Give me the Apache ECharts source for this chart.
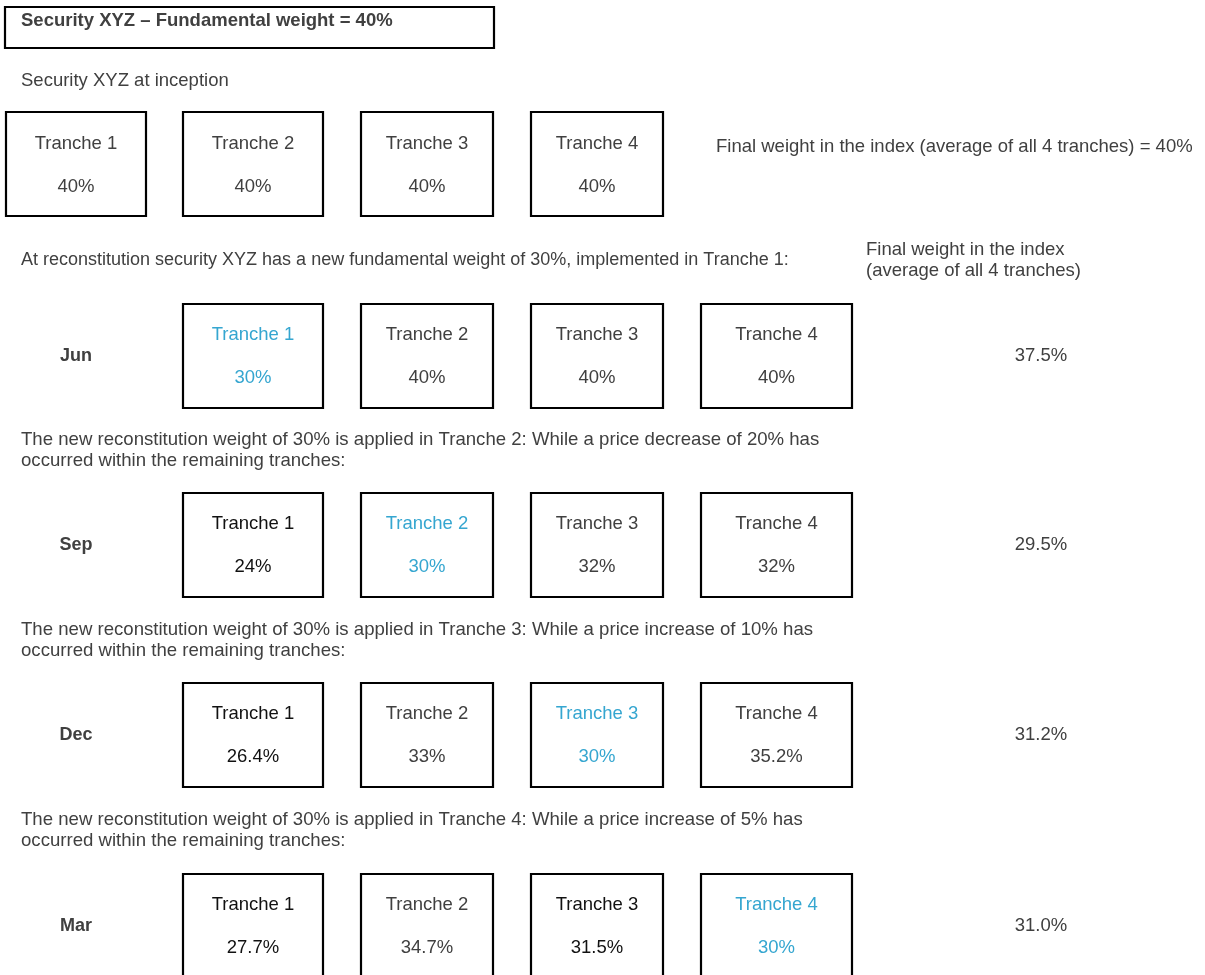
<!DOCTYPE html>
<html>
<head>
<meta charset="utf-8">
<script src="https://cdn.jsdelivr.net/npm/echarts@6/dist/echarts.min.js"></script>
<style>
  html, body { margin: 0; padding: 0; background: #fff; }
  #main { width: 1205px; height: 975px; }
</style>
</head>
<body>
<div id="main"></div>
<script>
// ---------- DATA ----------
const titleText = 'Security XYZ \u2013 Fundamental weight = 40%';
const inceptionText = 'Security XYZ at inception';
const inceptionFinalText = 'Final weight in the index (average of all 4 tranches) = 40%';
const finalHeaderLines = ['Final weight in the index', '(average of all 4 tranches)'];
const trancheLabels = ['Tranche 1', 'Tranche 2', 'Tranche 3', 'Tranche 4'];
const inceptionWeights = ['40%', '40%', '40%', '40%'];
const months = ['Jun', 'Sep', 'Dec', 'Mar'];
const junWeights = ['30%', '40%', '40%', '40%'];
const sepWeights = ['24%', '30%', '32%', '32%'];
const decWeights = ['26.4%', '33%', '30%', '35.2%'];
const marWeights = ['27.7%', '34.7%', '31.5%', '30%'];
const finalWeights = ['37.5%', '29.5%', '31.2%', '31.0%'];
const activeTranche = [0, 1, 2, 3];
const captions = [
  ['At reconstitution security XYZ has a new fundamental weight of 30%, implemented in Tranche 1:'],
  ['The new reconstitution weight of 30% is applied in Tranche 2: While a price decrease of 20% has', 'occurred within the remaining tranches:'],
  ['The new reconstitution weight of 30% is applied in Tranche 3: While a price increase of 10% has', 'occurred within the remaining tranches:'],
  ['The new reconstitution weight of 30% is applied in Tranche 4: While a price increase of 5% has', 'occurred within the remaining tranches:']
];
const rowWeights = [junWeights, sepWeights, decWeights, marWeights];

// ---------- STYLE / LAYOUT ----------
const FONT = '"Liberation Sans", Arial, Helvetica, sans-serif';
const FS = 18.5;
const GREY = '#404040';
const BLACK = '#111111';
const BLUE = '#35a6d0';
const darkCells = { '1-0': true, '2-0': true, '3-0': true, '3-2': true };
const incBoxX = [6, 183, 361, 531];
const incBoxW = [140, 140, 132, 132];
const rowBoxX = [183, 361, 531, 701];
const rowBoxW = [140, 132, 132, 151];
const incTop = 112, boxH = 104;
const rowTops = [304, 493, 683, 874];
const captionY = [260, 440, 630, 820];
const captionFS = [18, 18.6, 18.6, 18.6];
const lineH = 21;

const els = [];
function txt(s, x, y, opts) {
  opts = opts || {};
  els.push({
    type: 'text',
    style: {
      text: s, x: x, y: y,
      fill: opts.fill || GREY,
      fontSize: opts.fontSize || FS,
      fontWeight: opts.bold ? 'bold' : 'normal',
      fontFamily: FONT,
      align: opts.align || 'left',
      verticalAlign: 'middle'
    }
  });
}
function box(x, y, w, h) {
  els.push({
    type: 'rect',
    shape: { x: x, y: y, width: w, height: h },
    style: { fill: '#fff', stroke: '#000', lineWidth: 2.2 }
  });
}

// Title box
box(5, 7, 489, 41);
txt(titleText, 21, 21, { bold: true, fontSize: 18.5 });
txt(inceptionText, 21, 81);

// Inception row
trancheLabels.forEach(function (lab, i) {
  box(incBoxX[i], incTop, incBoxW[i], boxH);
  const cx = incBoxX[i] + incBoxW[i] / 2;
  txt(lab, cx, incTop + 32, { align: 'center' });
  txt(inceptionWeights[i], cx, incTop + 75, { align: 'center' });
});
txt(inceptionFinalText, 716, 147);

// Header for final weight column
finalHeaderLines.forEach(function (l, k) {
  txt(l, 866, 250 + k * lineH);
});

// Reconstitution rows
months.forEach(function (m, r) {
  captions[r].forEach(function (l, k) {
    txt(l, 21, captionY[r] + k * lineH, { fontSize: captionFS[r] });
  });
  const top = rowTops[r];
  trancheLabels.forEach(function (lab, i) {
    box(rowBoxX[i], top, rowBoxW[i], boxH);
    const cx = rowBoxX[i] + rowBoxW[i] / 2;
    let col = GREY;
    if (activeTranche[r] === i) col = BLUE;
    else if (darkCells[r + '-' + i]) col = BLACK;
    txt(lab, cx, top + 31, { align: 'center', fill: col });
    txt(rowWeights[r][i], cx, top + 74, { align: 'center', fill: col });
  });
  txt(m, 76, top + boxH / 2, { align: 'center', bold: true, fontSize: 18 });
  txt(finalWeights[r], 1041, top + boxH / 2, { align: 'center' });
});

const chart = echarts.init(document.getElementById('main'), null, { renderer: 'canvas' });
chart.setOption({
  backgroundColor: '#ffffff',
  animation: false,
  graphic: { elements: els }
});
</script>
</body>
</html>
